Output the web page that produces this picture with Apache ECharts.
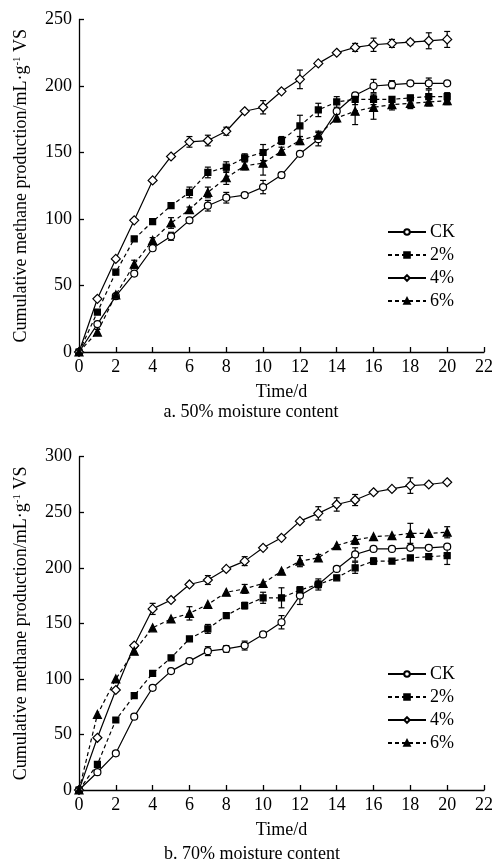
<!DOCTYPE html>
<html><head><meta charset="utf-8">
<script src="https://cdn.jsdelivr.net/npm/echarts@6/dist/echarts.min.js"></script>
<style>html,body{margin:0;padding:0;background:#fff}#c{width:496px;height:868px}</style>
</head><body><div id="c"></div>
<script>
const days = [0,1,2,3,4,5,6,7,8,9,10,11,12,13,14,15,16,17,18,19,20];
const xTicks = [0,2,4,6,8,10,12,14,16,18,20,22];
const seriesNames = ['CK','2%','4%','6%'];

// a. 50% moisture content
const ck50  = [0,21,42,59,78,87,99,110,116,118,124,133,149,160,181,193,200,201,202,202,202];
const p2_50 = [0,30,60,85,98,110,120,135,139,146,150,159,170,182,188,190,190,190,191,192,192];
const p4_50 = [0,40,70,99,129,147,158,159,166,181,184,196,205,217,225,229,231,232,233,234,235];
const p6_50 = [0,15,43,66,84,97,107,120,131,140,142,151,159,163,176,181,184,186,187,188,189];
const ckErr50 = [0,1,1,1,1,3,2,4,4,1,5,2,1,5,1,2,5,3,1,4,1];
const p2Err50 = [0,1,1,1,1,1,4,4,4,3,6,3,8,5,4,4,4,2,2,5,3];
const p4Err50 = [0,1,1,1,1,1,4,4,3,1,5,1,7,1,1,3,5,3,2,6,6];
const p6Err50 = [0,2,1,3,2,4,2,4,5,3,9,3,3,3,3,10,9,4,4,3,3];

// b. 70% moisture content
const ck70  = [0,16,33,66,92,107,116,125,127,130,140,151,175,185,199,212,217,217,218,218,219];
const p2_70 = [0,23,63,85,105,119,136,145,157,166,173,173,180,185,191,200,206,206,209,210,211];
const p4_70 = [0,47,90,130,163,171,185,189,199,206,218,227,242,249,257,261,268,271,274,275,277];
const p6_70 = [0,68,100,125,146,154,159,167,178,181,186,197,206,209,220,225,228,229,231,231,232];
const ckErr70 = [0,1,1,1,1,1,1,4,3,4,1,6,8,3,2,6,1,1,1,1,1];
const p2Err70 = [0,1,1,1,1,2,1,4,1,3,5,9,2,5,1,5,3,1,1,1,8];
const p4Err70 = [0,1,1,1,5,1,1,4,1,4,1,1,1,6,6,5,1,1,7,1,1];
const p6Err70 = [0,1,1,1,1,1,6,1,1,4,1,1,5,3,1,4,1,1,9,1,5];

const FONT = 'Liberation Serif';
const styles = {
  'CK': {symbol:'circle', symbolSize:7, fill:'#fff', dash:'solid'},
  '2%': {symbol:'rect', symbolSize:6, fill:'#000', dash:[4,3]},
  '4%': {symbol:'diamond', symbolSize:9, fill:'#fff', dash:'solid'},
  '6%': {symbol:'triangle', symbolSize:8, fill:'#000', dash:[4,3]}
};

function lineSeries(name, vals, idx){
  const s = styles[name];
  return {
    name, type:'line', xAxisIndex:idx, yAxisIndex:idx, z:3,
    data: days.map((d,i)=>[d, vals[i]]),
    symbol:s.symbol, symbolSize:s.symbolSize, showAllSymbol:true,
    lineStyle:{color:'#000', width:1.2, type:s.dash, dashOffset:0},
    itemStyle:{color:s.fill, borderColor:'#000', borderWidth:1.2},
    emphasis:{disabled:true}, animation:false
  };
}
function errRender(params, api){
  const x = api.value(0), lo = api.value(1), hi = api.value(2);
  const a = api.coord([x, lo]), b = api.coord([x, hi]);
  const w = 3, st = {stroke:'#000', lineWidth:1.2};
  return {type:'group', children:[
    {type:'line', shape:{x1:a[0],y1:a[1],x2:b[0],y2:b[1]}, style:st},
    {type:'line', shape:{x1:a[0]-w,y1:a[1],x2:a[0]+w,y2:a[1]}, style:st},
    {type:'line', shape:{x1:b[0]-w,y1:b[1],x2:b[0]+w,y2:b[1]}, style:st}
  ]};
}
function errSeries(vals, errs, idx){
  const data = [];
  days.forEach((d,i)=>{ if(errs[i]>=2) data.push([d, vals[i]-errs[i], vals[i]+errs[i]]); });
  return {type:'custom', xAxisIndex:idx, yAxisIndex:idx, z:1, renderItem:errRender,
          data, silent:true, animation:false};
}

const txt = {fontFamily:FONT, fontSize:18, color:'#000'};
function xAxis(idx){
  return {type:'value', gridIndex:idx, min:0, max:22, interval:2,
    name:'Time/d', nameLocation:'middle', nameGap:31, nameTextStyle:txt,
    axisLine:{show:true, onZero:false, lineStyle:{color:'#000', width:1.3}},
    axisTick:{show:true, inside:true, length:5, lineStyle:{color:'#000', width:1.3}},
    axisLabel:Object.assign({margin:6}, txt),
    splitLine:{show:false}};
}
function yAxis(idx, max){
  return {type:'value', gridIndex:idx, min:0, max:max, interval:50,
    name:'Cumulative methane production/mL·g{sup|-1} VS', nameLocation:'middle', nameGap:48,
    nameTextStyle:Object.assign({rich:{sup:{fontFamily:FONT, fontSize:11, color:'#000', verticalAlign:'top', padding:[0,0,8,0]}}}, txt),
    axisLine:{show:true, onZero:false, lineStyle:{color:'#000', width:1.3}},
    axisTick:{show:true, inside:true, length:5, lineStyle:{color:'#000', width:1.3}},
    axisLabel:Object.assign({margin:7}, txt),
    splitLine:{show:false}};
}
function legend(top){
  return {orient:'vertical', left:387, top:top, padding:0, itemGap:5,
    itemWidth:38, itemHeight:7, data:seriesNames, selectedMode:false,
    textStyle:{fontFamily:FONT, fontSize:18, color:'#000', padding:[0,0,0,-1]}};
}

const chart = echarts.init(document.getElementById('c'), null, {renderer:'canvas'});
chart.setOption({
  animation:false,
  backgroundColor:'#fff',
  grid:[
    {left:79, top:19.5, width:407, height:332.5},
    {left:79, top:456.7, width:407, height:333.3}
  ],
  xAxis:[xAxis(0), xAxis(1)],
  yAxis:[yAxis(0,250), yAxis(1,300)],
  legend:[legend(223), legend(665)],
  graphic:[
    {type:'text', x:251, y:412, style:{text:'a. 50% moisture content', font:'18px "Liberation Serif"', fill:'#000', textAlign:'center', textVerticalAlign:'middle'}},
    {type:'text', x:252, y:854, style:{text:'b. 70% moisture content', font:'18px "Liberation Serif"', fill:'#000', textAlign:'center', textVerticalAlign:'middle'}}
  ],
  series:[
    errSeries(ck50, ckErr50, 0), errSeries(p2_50, p2Err50, 0), errSeries(p4_50, p4Err50, 0), errSeries(p6_50, p6Err50, 0),
    lineSeries('CK', ck50, 0), lineSeries('2%', p2_50, 0), lineSeries('4%', p4_50, 0), lineSeries('6%', p6_50, 0),
    errSeries(ck70, ckErr70, 1), errSeries(p2_70, p2Err70, 1), errSeries(p4_70, p4Err70, 1), errSeries(p6_70, p6Err70, 1),
    lineSeries('CK', ck70, 1), lineSeries('2%', p2_70, 1), lineSeries('4%', p4_70, 1), lineSeries('6%', p6_70, 1)
  ]
});
</script></body></html>
